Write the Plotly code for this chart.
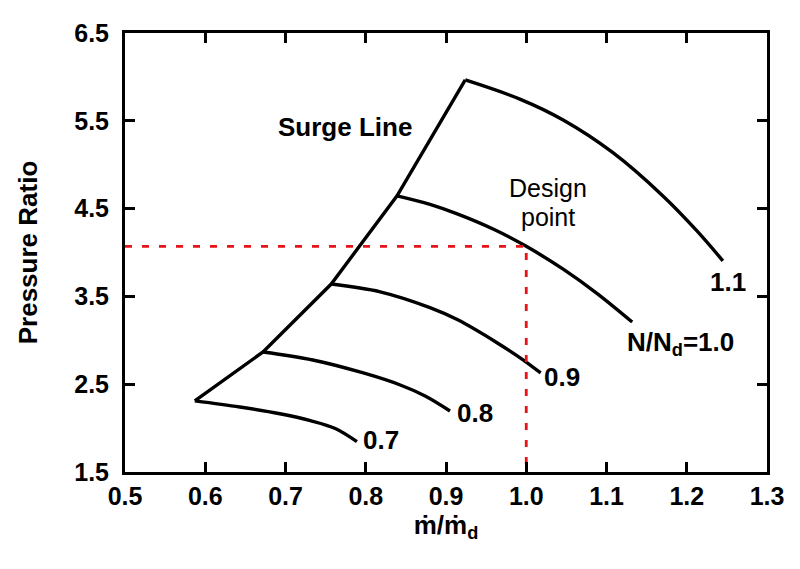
import plotly.graph_objects as go

# Surge line nodes
surge_x = [0.587, 0.672, 0.757, 0.839, 0.924]
surge_y = [2.31, 2.867, 3.641, 4.645, 5.965]

# Speed lines (N/Nd = 0.7 ... 1.1)
n07_x = [0.587, 0.643, 0.693, 0.731, 0.762, 0.789]
n07_y = [2.31, 2.240, 2.163, 2.085, 1.995, 1.845]

n08_x = [0.672, 0.734, 0.797, 0.843, 0.874, 0.905]
n08_y = [2.867, 2.776, 2.628, 2.491, 2.366, 2.195]

n09_x = [0.757, 0.818, 0.880, 0.914, 0.964, 0.996, 1.018]
n09_y = [3.641, 3.552, 3.372, 3.236, 2.970, 2.778, 2.628]

n10_x = [0.839, 0.880, 0.914, 0.960, 1.000, 1.046, 1.088, 1.132]
n10_y = [4.645, 4.548, 4.440, 4.262, 4.070, 3.810, 3.535, 3.208]

n11_x = [0.924, 0.992, 1.046, 1.108, 1.170, 1.213, 1.245]
n11_y = [5.965, 5.747, 5.509, 5.137, 4.647, 4.243, 3.905]

design_x = 1.0
design_y = 4.07

x_ticks = [0.5, 0.6, 0.7, 0.8, 0.9, 1.0, 1.1, 1.2, 1.3]
y_ticks = [1.5, 2.5, 3.5, 4.5, 5.5, 6.5]

FONT = "Liberation Sans, Arial"

fig = go.Figure()
fig.add_trace(go.Scatter(x=surge_x, y=surge_y, mode="lines",
                         line=dict(color="black", width=3.4)))
for xs, ys in [(n07_x, n07_y), (n08_x, n08_y), (n09_x, n09_y), (n10_x, n10_y), (n11_x, n11_y)]:
    fig.add_trace(go.Scatter(x=xs, y=ys, mode="lines",
                             line=dict(color="black", width=3.4, shape="spline", smoothing=1.0)))

fig.add_trace(go.Scatter(x=[0.5, design_x, design_x], y=[design_y, design_y, 1.5],
                         mode="lines",
                         line=dict(color="#e8121a", width=2.8, dash="7px,10px")))

font_b = dict(family=FONT, size=26, color="black")
font_r = dict(family=FONT, size=25, color="black")
ann = [
    (0.774, 5.429, "<b>Surge Line</b>", font_b),
    (1.027, 4.735, "Design", font_r),
    (1.027, 4.404, "point", font_r),
    (1.251, 3.664, "<b>1.1</b>", font_b),
    (1.192, 2.969, "<b>N/N<sub>d</sub>=1.0</b>", font_b),
    (1.045, 2.582, "<b>0.9</b>", font_b),
    (0.936, 2.172, "<b>0.8</b>", font_b),
    (0.819, 1.864, "<b>0.7</b>", font_b),
]
for ax, ay, t, f in ann:
    fig.add_annotation(x=ax, y=ay, text=t, showarrow=False, font=f)

axis_common = dict(showline=True, linecolor="black", linewidth=3, mirror="ticks",
                   ticks="inside", ticklen=10, tickwidth=3, tickcolor="black",
                   showgrid=False, zeroline=False,
                   tickfont=dict(family=FONT, size=25, color="black"))

fig.update_layout(
    width=792, height=561,
    margin=dict(l=117, r=33, t=25, b=97),
    paper_bgcolor="white", plot_bgcolor="white",
    showlegend=False,
    xaxis=dict(range=[0.5, 1.3], tickvals=x_ticks,
               ticktext=[f"<b>{v:.1f}</b>" for v in x_ticks],
               title=dict(text="<b>ṁ/ṁ<sub>d</sub></b>", standoff=4,
                          font=dict(family=FONT, size=26, color="black")),
               **axis_common),
    yaxis=dict(range=[1.5, 6.5], tickvals=y_ticks,
               ticktext=[f"<b>{v:.1f}</b>" for v in y_ticks],
               ticklabelstandoff=8,
               title=dict(text="<b>Pressure Ratio</b>", standoff=30,
                          font=dict(family=FONT, size=26, color="black")),
               **axis_common),
)

fig.write_html("out.html")
